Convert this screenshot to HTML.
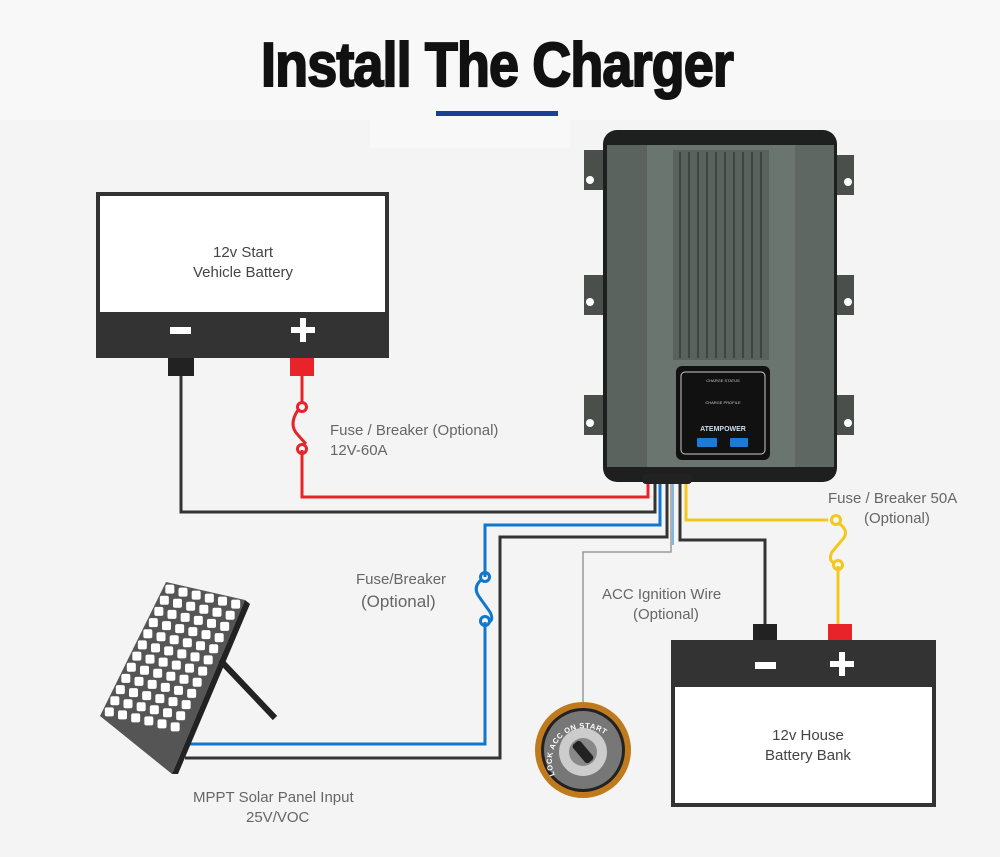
<!DOCTYPE html>
<html><head><meta charset="utf-8"><style>
body{margin:0;width:1000px;height:852px;overflow:hidden;background:#f4f4f4;font-family:"Liberation Sans",sans-serif}
</style></head><body>
<svg width="1000" height="852" viewBox="0 0 1000 852" xmlns="http://www.w3.org/2000/svg" font-family="Liberation Sans, sans-serif">
<rect width="1000" height="852" fill="#f4f4f4"/>
<rect width="1000" height="120" fill="#f8f8f8"/>
<rect x="370" y="118" width="200" height="30" fill="#f8f8f8"/>
<text x="497" y="86" text-anchor="middle" font-size="62" font-weight="bold" fill="#111" stroke="#111" stroke-width="2" transform="translate(497 0) scale(0.87 1) translate(-497 0)" letter-spacing="-1">Install The Charger</text>
<rect x="436" y="111" width="122" height="5" fill="#1b3f94"/>

<!-- wires -->
<g fill="none" stroke-width="3">
<polyline points="181,375 181,512 655,512 655,482" stroke="#333"/>
<polyline points="302,375 302,403" stroke="#e8232a"/>
<polyline points="302,450 302,497 648,497 648,482" stroke="#e8232a"/>
<polyline points="185,744 485,744 485,622" stroke="#1177cc"/>
<polyline points="485,577 485,525 660,525 660,482" stroke="#1177cc"/>
<polyline points="185,758 500,758 500,537 667,537 667,482" stroke="#333"/>
<polyline points="680,482 680,540 765,540 765,625" stroke="#333"/>
<polyline points="686,482 686,520 828,520" stroke="#f2c81e"/>
<polyline points="838,566 838,625" stroke="#f2c81e"/>
</g>
<polyline points="583,705 583,552 671,552 671,482" fill="none" stroke="#999" stroke-width="1.5"/>
<polyline points="673,482 673,545" fill="none" stroke="#1177cc" stroke-width="1"/>
<!-- fuses -->
<g fill="none" stroke-width="3">
<circle cx="302" cy="407" r="4.5" stroke="#e8232a"/><circle cx="302" cy="449" r="4.5" stroke="#e8232a"/>
<path d="M298 410 Q288 425 298 435 L306 444" stroke="#e8232a"/>
<circle cx="485" cy="577" r="4.5" stroke="#1177cc"/><circle cx="485" cy="621" r="4.5" stroke="#1177cc"/>
<path d="M481 580 Q472 588 480 598 L490 612 Q494 620 489 622" stroke="#1177cc"/>
<circle cx="836" cy="520" r="4.5" stroke="#f2c81e"/><circle cx="838" cy="565" r="4.5" stroke="#f2c81e"/>
<path d="M840 524 Q850 532 842 540 L832 552 Q828 560 834 563" stroke="#f2c81e"/>
</g>

<!-- start battery -->
<rect x="96" y="192" width="293" height="166" fill="#333"/>
<rect x="100" y="196" width="285" height="116" fill="#fff"/>
<text x="243" y="257" text-anchor="middle" font-size="15" fill="#444">12v Start</text>
<text x="243" y="277" text-anchor="middle" font-size="15" fill="#444">Vehicle Battery</text>
<rect x="170" y="327" width="21" height="7" fill="#fff"/>
<rect x="291" y="327" width="24" height="6" fill="#fff"/><rect x="300" y="318" width="6" height="24" fill="#fff"/>
<rect x="168" y="358" width="26" height="18" fill="#222"/>
<rect x="290" y="358" width="24" height="18" fill="#e8232a"/>

<!-- house battery -->
<rect x="753" y="624" width="24" height="18" fill="#222"/>
<rect x="828" y="624" width="24" height="18" fill="#e8232a"/>
<rect x="671" y="640" width="265" height="167" fill="#333"/>
<rect x="675" y="687" width="257" height="116" fill="#fff"/>
<rect x="755" y="662" width="21" height="7" fill="#fff"/>
<rect x="830" y="661" width="24" height="6" fill="#fff"/><rect x="839" y="652" width="6" height="24" fill="#fff"/>
<text x="808" y="740" text-anchor="middle" font-size="15" fill="#444">12v House</text>
<text x="808" y="760" text-anchor="middle" font-size="15" fill="#444">Battery Bank</text>

<!-- labels -->
<g fill="#666" font-size="15">
<text x="330" y="435">Fuse / Breaker (Optional)</text>
<text x="330" y="455">12V-60A</text>
<text x="828" y="503">Fuse / Breaker 50A</text>
<text x="864" y="523">(Optional)</text>
<text x="356" y="584">Fuse/Breaker</text>
<text x="361" y="607" font-size="17">(Optional)</text>
<text x="602" y="599">ACC Ignition Wire</text>
<text x="633" y="619">(Optional)</text>
<text x="193" y="802">MPPT Solar Panel Input</text>
<text x="246" y="822">25V/VOC</text>
</g>

<!-- solar panel -->
<line x1="220" y1="660" x2="275" y2="718" stroke="#222" stroke-width="6"/>
<polygon points="166,582 245,600 172,774 100,716" fill="#555"/>
<polygon points="245,600 250,604 178,774 172,774" fill="#222"/>
<g id="cells"></g>
<script>
var g=document.getElementById('cells'),ns='http://www.w3.org/2000/svg';
for(var r=0;r<12;r++)for(var c=0;c<6;c++){
var u=(c+0.5)/6,v=(r+0.5)/12;
var x=166+(245-166)*u+(100-166)*v, y=582+(600-582)*u+(716-582)*v;
var p=document.createElementNS(ns,'rect');p.setAttribute('x',x-4.5);p.setAttribute('y',y-4.5);p.setAttribute('width',9);p.setAttribute('height',9);p.setAttribute('rx',2);p.setAttribute('fill','#fff');g.appendChild(p);}
</script>

<!-- ignition -->
<circle cx="583" cy="750" r="48" fill="#c07a1e"/>
<circle cx="583" cy="750" r="42" fill="#222"/>
<circle cx="583" cy="750" r="39" fill="#777"/>
<circle cx="583" cy="752" r="24" fill="#ccc"/>
<circle cx="583" cy="752" r="14" fill="#888"/>
<rect x="578" y="740" width="10" height="24" rx="3" fill="#222" transform="rotate(-40 583 752)"/>
<defs><path id="arc" d="M555 775 A33 33 0 1 1 616 750"/></defs>
<text font-size="7.5" font-weight="bold" fill="#fff" letter-spacing="0.5"><textPath href="#arc">LOCK ACC ON START</textPath></text>

<!-- charger -->
<g>
<rect x="584" y="150" width="22" height="40" fill="#4a4f4c"/><circle cx="590" cy="180" r="4" fill="#fff"/>
<rect x="584" y="275" width="22" height="40" fill="#4a4f4c"/><circle cx="590" cy="302" r="4" fill="#fff"/>
<rect x="584" y="395" width="22" height="40" fill="#4a4f4c"/><circle cx="590" cy="423" r="4" fill="#fff"/>
<rect x="832" y="155" width="22" height="40" fill="#4a4f4c"/><circle cx="848" cy="182" r="4" fill="#fff"/>
<rect x="832" y="275" width="22" height="40" fill="#4a4f4c"/><circle cx="848" cy="302" r="4" fill="#fff"/>
<rect x="832" y="395" width="22" height="40" fill="#4a4f4c"/><circle cx="848" cy="423" r="4" fill="#fff"/>
<rect x="603" y="130" width="234" height="352" rx="14" fill="#1e201f"/>
<rect x="607" y="145" width="227" height="322" rx="6" fill="#6b756f"/>
<rect x="607" y="145" width="40" height="322" fill="#5a635e"/>
<rect x="795" y="145" width="39" height="322" fill="#5e6762"/>
<rect x="673" y="150" width="96" height="210" fill="#59625d"/>
<g stroke="#3e4541" stroke-width="2">
<line x1="680" y1="152" x2="680" y2="358"/><line x1="689" y1="152" x2="689" y2="358"/><line x1="698" y1="152" x2="698" y2="358"/><line x1="707" y1="152" x2="707" y2="358"/><line x1="716" y1="152" x2="716" y2="358"/><line x1="725" y1="152" x2="725" y2="358"/><line x1="734" y1="152" x2="734" y2="358"/><line x1="743" y1="152" x2="743" y2="358"/><line x1="752" y1="152" x2="752" y2="358"/><line x1="761" y1="152" x2="761" y2="358"/>
</g>
<rect x="676" y="366" width="94" height="94" rx="6" fill="#111"/>
<rect x="681" y="372" width="84" height="82" rx="4" fill="none" stroke="#ccc" stroke-width="1"/>
<text x="723" y="382" text-anchor="middle" font-size="4" fill="#ccc">CHARGE STATUS</text>
<text x="723" y="404" text-anchor="middle" font-size="4" fill="#ccc">CHARGE PROFILE</text>
<text x="723" y="431" text-anchor="middle" font-size="7" font-weight="bold" fill="#cde">ATEMPOWER</text>
<rect x="697" y="438" width="20" height="9" rx="1" fill="#1a7bd8"/>
<rect x="730" y="438" width="18" height="9" rx="1" fill="#1a7bd8"/>
<rect x="642" y="474" width="50" height="10" rx="4" fill="#222"/>
</g>
</svg>
</body></html>
